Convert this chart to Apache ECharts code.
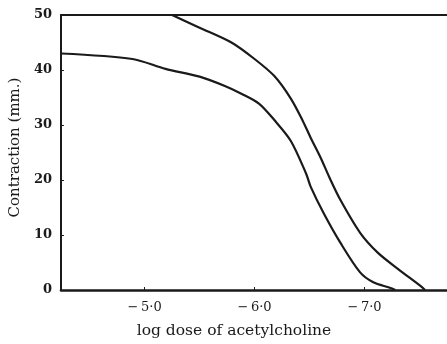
<!DOCTYPE html>
<html>
<head>
<meta charset="utf-8">
<script src="https://cdn.jsdelivr.net/npm/echarts@6/dist/echarts.min.js"></script>
<style>
  html, body { margin: 0; padding: 0; background: #fff; }
  #chart { width: 447px; height: 344px; }
</style>
</head>
<body>
<div id="chart"></div>
<script>
// log dose values (negative, plotted with inverted axis)
const lowerDose = [-4.24, -4.89, -5.19, -5.50, -5.73, -5.88, -6.04, -6.18, -6.33, -6.47, -6.51, -6.63, -6.78, -6.96, -7.08, -7.23, -7.28];
const lowerContraction = [43.0, 42.0, 40.2, 38.8, 37.1, 35.7, 33.9, 30.9, 27.1, 21.1, 18.8, 13.9, 8.6, 3.2, 1.4, 0.4, 0];

const upperDose = [-5.25, -5.50, -5.79, -6.0, -6.18, -6.33, -6.44, -6.51, -6.60, -6.68, -6.78, -6.96, -7.12, -7.30, -7.53, -7.55];
const upperContraction = [50, 47.7, 45.0, 42.0, 38.9, 34.8, 30.7, 27.7, 24.1, 20.5, 16.4, 10.4, 6.8, 3.9, 0.4, 0];

const xTicks = [-5, -6, -7];
const xTickLabels = { '-5': '\u2212\u20095\u00b70', '-6': '\u2212\u20096\u00b70', '-7': '\u2212\u20097\u00b70' };

const ink = '#1a1a1a';
const serif = '"DejaVu Serif", "Liberation Serif", serif';

const chart = echarts.init(document.getElementById('chart'));

const zip = (xs, ys) => xs.map((x, i) => [x, ys[i]]);

chart.setOption({
  backgroundColor: '#fff',
  animation: false,
  grid: { left: 58, right: -4, top: 15, bottom: 49 },
  xAxis: [
    {
      type: 'value',
      inverse: true,
      min: -7.75,
      max: -4.24,
      splitLine: { show: false },
      axisLine: { lineStyle: { color: ink, width: 2.5 } },
      axisTick: { inside: true, length: 3, customValues: xTicks, lineStyle: { color: ink, width: 1 } },
      axisLabel: {
        customValues: xTicks,
        formatter: (v) => xTickLabels[String(Math.round(v))] || '',
        color: ink,
        fontFamily: serif,
        fontSize: 13,
        margin: 11
      },
      name: 'log dose of acetylcholine',
      nameLocation: 'middle',
      nameGap: 33,
      nameTextStyle: { color: ink, fontFamily: serif, fontSize: 15.5, padding: [0, 40, 0, 0] }
    },
    {
      type: 'value',
      position: 'top',
      inverse: true,
      min: -7.75,
      max: -4.24,
      splitLine: { show: false },
      axisLine: { show: true, lineStyle: { color: ink, width: 2 } },
      axisTick: { show: false },
      axisLabel: { show: false }
    }
  ],
  yAxis: {
    type: 'value',
    min: 0,
    max: 50,
    interval: 10,
    splitLine: { show: false },
    axisLine: { show: true, lineStyle: { color: ink, width: 2 } },
    axisTick: { show: true, inside: true, length: 3, lineStyle: { color: ink, width: 1 } },
    axisLabel: {
      color: ink,
      fontFamily: serif,
      fontSize: 13,
      fontWeight: 'bold',
      margin: 9
    },
    name: 'Contraction (mm.)',
    nameLocation: 'middle',
    nameGap: 34,
    nameTextStyle: { color: ink, fontFamily: serif, fontSize: 15, padding: [0, 0, 0, 10] }
  },
  series: [
    {
      type: 'line',
      data: zip(lowerDose, lowerContraction),
      smooth: 0.3,
      showSymbol: false,
      lineStyle: { color: ink, width: 2.2 }
    },
    {
      type: 'line',
      data: zip(upperDose, upperContraction),
      smooth: 0.3,
      showSymbol: false,
      lineStyle: { color: ink, width: 2.2 }
    }
  ]
});
</script>
</body>
</html>
